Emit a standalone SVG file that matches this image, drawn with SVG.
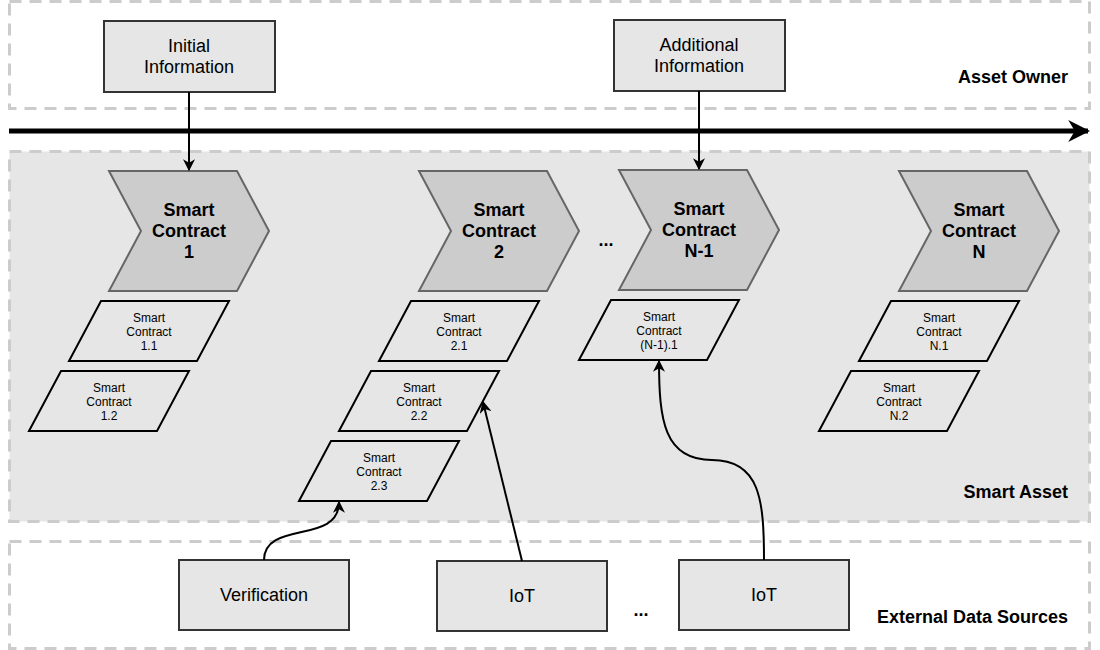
<svg xmlns="http://www.w3.org/2000/svg" width="1100" height="650" viewBox="0 0 1100 650">
<style>
.lane{fill:none;stroke:#cccccc;stroke-width:3;stroke-dasharray:12 8}
.box{fill:#e6e6e6;stroke:#333333;stroke-width:2}
.chev{fill:#cccccc;stroke:#666666;stroke-width:2}
.para{fill:#e6e6e6;stroke:#000000;stroke-width:2}
.t{font-family:"Liberation Sans",Arial,sans-serif;fill:#000;text-anchor:middle}
.big{font-size:18px}
.bold{font-size:18px;font-weight:bold}
.sm{font-size:12px}
.lbl{font-family:"Liberation Sans",Arial,sans-serif;font-size:18px;font-weight:bold;text-anchor:end;fill:#000}
.conn{fill:none;stroke:#000;stroke-width:2}
</style>
<defs>
<marker id="ahc" viewBox="0 0 10 10" refX="9" refY="5" markerWidth="12" markerHeight="12" markerUnits="userSpaceOnUse" orient="auto">
<path d="M0,0 L10,5 L0,10 L3,5 Z" fill="#000"/>
</marker>
<marker id="big" viewBox="0 0 10 10" refX="9" refY="5" markerWidth="22" markerHeight="22" markerUnits="userSpaceOnUse" orient="auto">
<path d="M0,0 L10,5 L0,10 L3,5 Z" fill="#000"/>
</marker>
</defs>
<rect width="1100" height="650" fill="#ffffff"/>
<g id="lanes">
<rect id="asset-owner" class="lane" x="9.5" y="1.5" width="1080" height="107"/>
<rect id="smart-asset" x="9.5" y="151.5" width="1080" height="370" fill="#e6e6e6" stroke="#cccccc" stroke-width="3" stroke-dasharray="12 8"/>
<rect id="external" class="lane" x="9.5" y="541.5" width="1080" height="107"/>
<text class="lbl" x="1068" y="83">Asset Owner</text>
<text class="lbl" x="1068" y="498">Smart Asset</text>
<text class="lbl" x="1068" y="623">External Data Sources</text>
</g>
<g id="timeline">
<line x1="9" y1="131" x2="1088" y2="131" stroke="#000" stroke-width="5" marker-end="url(#big)"/>
</g>
<g id="initial-info">
<rect class="box" x="104" y="21" width="171" height="71"/>
<text class="t big" x="189" y="52">Initial</text>
<text class="t big" x="189" y="73">Information</text>
</g>
<g id="additional-info">
<rect class="box" x="614" y="20" width="171" height="71"/>
<text class="t big" x="699" y="51">Additional</text>
<text class="t big" x="699" y="72">Information</text>
</g>
<g id="sc1">
<polygon class="chev" points="109,171 237,171 269,231 237,291 109,291 141,231"/>
<text class="t bold" x="189" y="216">Smart</text>
<text class="t bold" x="189" y="237">Contract</text>
<text class="t bold" x="189" y="258">1</text>
</g>
<g id="sc2">
<polygon class="chev" points="419,171 547,171 579,231 547,291 419,291 451,231"/>
<text class="t bold" x="499" y="216">Smart</text>
<text class="t bold" x="499" y="237">Contract</text>
<text class="t bold" x="499" y="258">2</text>
</g>
<g id="scn1">
<polygon class="chev" points="619,170 747,170 779,230 747,290 619,290 651,230"/>
<text class="t bold" x="699" y="215">Smart</text>
<text class="t bold" x="699" y="236">Contract</text>
<text class="t bold" x="699" y="257">N-1</text>
</g>
<g id="scn">
<polygon class="chev" points="899,171 1027,171 1059,231 1027,291 899,291 931,231"/>
<text class="t bold" x="979" y="216">Smart</text>
<text class="t bold" x="979" y="237">Contract</text>
<text class="t bold" x="979" y="258">N</text>
</g>
<g id="dots-top"><text class="t bold" x="606" y="246">...</text></g>
<g id="sc1-1">
<polygon class="para" points="69,361 101,301 229,301 197,361"/>
<text class="t sm" x="149" y="322">Smart</text>
<text class="t sm" x="149" y="336">Contract</text>
<text class="t sm" x="149" y="350">1.1</text>
</g>
<g id="sc1-2">
<polygon class="para" points="29,431 61,371 189,371 157,431"/>
<text class="t sm" x="109" y="392">Smart</text>
<text class="t sm" x="109" y="406">Contract</text>
<text class="t sm" x="109" y="420">1.2</text>
</g>
<g id="sc2-1">
<polygon class="para" points="379,361 411,301 539,301 507,361"/>
<text class="t sm" x="459" y="322">Smart</text>
<text class="t sm" x="459" y="336">Contract</text>
<text class="t sm" x="459" y="350">2.1</text>
</g>
<g id="sc2-2">
<polygon class="para" points="339,431 371,371 499,371 467,431"/>
<text class="t sm" x="419" y="392">Smart</text>
<text class="t sm" x="419" y="406">Contract</text>
<text class="t sm" x="419" y="420">2.2</text>
</g>
<g id="sc2-3">
<polygon class="para" points="299,501 331,441 459,441 427,501"/>
<text class="t sm" x="379" y="462">Smart</text>
<text class="t sm" x="379" y="476">Contract</text>
<text class="t sm" x="379" y="490">2.3</text>
</g>
<g id="scn1-1">
<polygon class="para" points="579,360 611,300 739,300 707,360"/>
<text class="t sm" x="659" y="321">Smart</text>
<text class="t sm" x="659" y="335">Contract</text>
<text class="t sm" x="659" y="349">(N-1).1</text>
</g>
<g id="scn-1">
<polygon class="para" points="859,361 891,301 1019,301 987,361"/>
<text class="t sm" x="939" y="322">Smart</text>
<text class="t sm" x="939" y="336">Contract</text>
<text class="t sm" x="939" y="350">N.1</text>
</g>
<g id="scn-2">
<polygon class="para" points="819,431 851,371 979,371 947,431"/>
<text class="t sm" x="899" y="392">Smart</text>
<text class="t sm" x="899" y="406">Contract</text>
<text class="t sm" x="899" y="420">N.2</text>
</g>
<g id="verification">
<rect class="box" x="179" y="560" width="170" height="70"/>
<text class="t big" x="264" y="601">Verification</text>
</g>
<g id="iot1">
<rect class="box" x="437" y="561" width="170" height="70"/>
<text class="t big" x="522" y="602">IoT</text>
</g>
<g id="iot2">
<rect class="box" x="679" y="560" width="170" height="70"/>
<text class="t big" x="764" y="601">IoT</text>
</g>
<g id="dots-bottom"><text class="t bold" x="641" y="616">...</text></g>
<g id="connectors">
<path class="conn" d="M189,92 L189,170" marker-end="url(#ahc)"/>
<path class="conn" d="M699,91 L699,169" marker-end="url(#ahc)"/>
<path class="conn" d="M264,560 C264,520 339,545 339,502" marker-end="url(#ahc)"/>
<path class="conn" d="M522,561 L483,402" marker-end="url(#ahc)"/>
<path class="conn" d="M764,560 C764,500 760,460 712,460 C664,460 659,420 659,361" marker-end="url(#ahc)"/>
</g>
</svg>
